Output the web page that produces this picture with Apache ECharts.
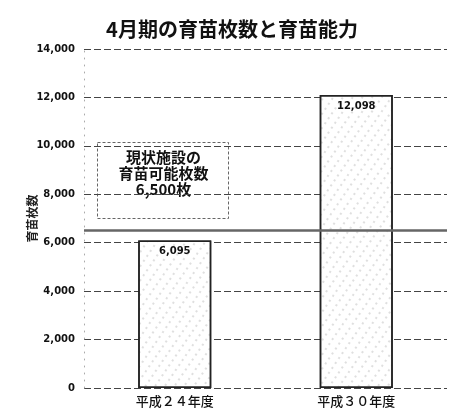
<!DOCTYPE html>
<html>
<head>
<meta charset="utf-8">
<script src="https://cdn.jsdelivr.net/npm/echarts@6/dist/echarts.min.js"></script>
<style>
html, body { margin: 0; padding: 0; background: #fff; }
#chart { width: 449px; height: 419px; }
</style>
</head>
<body>
<div id="chart"></div>
<script>
// Seedling counts for April, by fiscal year
var categories = ['平成２４年度', '平成３０年度'];
var seedlingCounts = [6095, 12098];
var capacity = 6500;
var capacityText = ['現状施設の', '育苗可能枚数', '6,500枚'];
var yTicks = { min: 0, max: 14000, interval: 2000 };

var chart = echarts.init(document.getElementById('chart'));
var jp = '"Noto Sans CJK JP", "Noto Sans", sans-serif';

chart.setOption({
  animation: false,
  title: {
    text: '4月期の育苗枚数と育苗能力',
    left: 227,
    textAlign: 'center',
    top: 14,
    textStyle: { fontFamily: jp, fontSize: 20, fontWeight: 'bold', color: '#111' }
  },
  grid: { left: 84, right: 2, top: 49, bottom: 31 },
  xAxis: {
    type: 'category',
    data: categories,
    axisLine: { show: false },
    axisTick: { show: false },
    axisLabel: { margin: 7, fontFamily: jp, fontSize: 13, fontWeight: 500, color: '#111' }
  },
  yAxis: {
    type: 'value',
    min: yTicks.min,
    max: yTicks.max,
    interval: yTicks.interval,
    name: '育苗枚数',
    nameLocation: 'middle',
    nameGap: 46,
    nameMoveOverlap: false,
    nameTextStyle: { fontFamily: jp, fontSize: 12, fontWeight: 'bold', color: '#222' },
    axisLine: { show: true, lineStyle: { color: '#aaa', type: [1, 6], width: 1 } },
    axisTick: { show: false },
    axisLabel: {
      margin: 9,
      fontFamily: 'DejaVu Sans, sans-serif',
      fontSize: 10,
      fontWeight: 'bold',
      color: '#111',
      formatter: function (v) { return v.toLocaleString('en-US'); }
    },
    splitLine: { show: true, lineStyle: { color: '#444', type: [7, 3], width: 1 } }
  },
  series: [{
    type: 'bar',
    data: seedlingCounts,
    barWidth: 73,
    itemStyle: {
      color: '#fff',
      borderColor: '#222',
      borderWidth: 1.5,
      decal: {
        symbol: 'circle',
        symbolSize: 0.35,
        color: 'rgba(0,0,0,0.35)',
        dashArrayX: [[4, 4]],
        dashArrayY: [4, 2],
        rotation: 0.6
      }
    },
    label: {
      show: true,
      position: 'insideTop',
      distance: 6,
      fontFamily: 'DejaVu Sans, sans-serif',
      fontSize: 10,
      fontWeight: 'bold',
      color: '#111',
      formatter: function (p) { return p.value.toLocaleString('en-US'); }
    },
    markLine: {
      silent: true,
      symbol: 'none',
      label: { show: false },
      lineStyle: { color: '#666', width: 2.5, type: 'solid' },
      data: [{ yAxis: capacity }]
    }
  }],
  graphic: [{
    type: 'group',
    left: 97,
    top: 142,
    children: [{
      type: 'rect',
      shape: { x: 0, y: 0, width: 131, height: 76 },
      style: { fill: '#fff', stroke: '#666', lineWidth: 1, lineDash: [3, 2] }
    }, {
      type: 'text',
      x: 66,
      y: 7,
      style: {
        text: capacityText.join('\n'),
        fontFamily: jp,
        fontSize: 15,
        lineHeight: 16,
        fontWeight: 'bold',
        fill: '#111',
        align: 'center',
        verticalAlign: 'top'
      }
    }]
  }]
});
</script>
</body>
</html>
